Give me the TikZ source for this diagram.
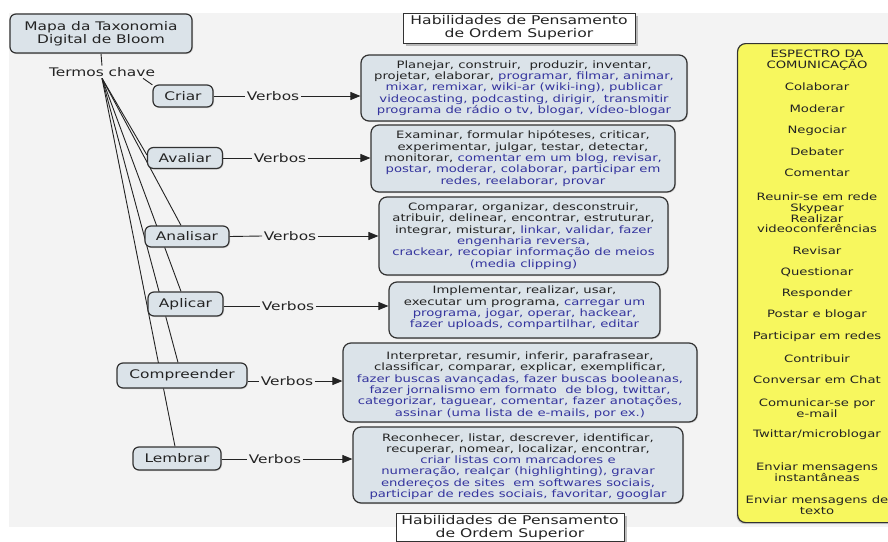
\documentclass[tikz,border=0pt]{standalone}
\usepackage{fontspec}
\setmainfont[FakeStretch=1.3]{DejaVu Sans}
\usetikzlibrary{arrows.meta,shadows,calc}

\definecolor{bggray}{RGB}{243,243,243}
\definecolor{nodefill}{RGB}{219,227,233}
\definecolor{edgegray}{RGB}{50,50,50}
\definecolor{verbblue}{RGB}{52,52,158}
\definecolor{inkdark}{RGB}{35,35,35}
\definecolor{specyellow}{RGB}{247,247,94}

\pgfdeclarelayer{back}
\pgfdeclarelayer{links}
\pgfsetlayers{back,links,main}

\newcommand{\bl}[1]{\textcolor{verbblue}{#1}}

\begin{document}
\begin{tikzpicture}[x=1pt,y=-1pt,
  bigfont/.style={font=\fontsize{11.85}{13}\selectfont},
  concept/.style={draw=edgegray, line width=1.2pt, rounded corners=6pt,
    fill=nodefill, bigfont, text=inkdark, inner sep=0pt,
    drop shadow={shadow xshift=1pt, shadow yshift=-1pt, fill=black!30}},
  verbbox/.style={draw=edgegray, line width=1.2pt, rounded corners=8pt,
    fill=nodefill, inner sep=0pt,
    drop shadow={shadow xshift=1pt, shadow yshift=-1pt, fill=black!30}},
  verbtext/.style={text=inkdark, align=center, inner sep=0pt,
    font=\fontsize{10.15}{11.3}\selectfont},
  verblabel/.style={bigfont, text=inkdark, inner sep=1.5pt},
  hdr/.style={draw=edgegray, line width=0.8pt, fill=white, text=inkdark,
    align=center, inner sep=0pt, font=\fontsize{12}{13}\selectfont,
    drop shadow={shadow xshift=3pt, shadow yshift=-3pt, fill=black!50}},
  specitem/.style={text=inkdark, align=center, inner sep=0pt,
    font=\fontsize{10.15}{10.8}\selectfont},
  link/.style={draw=inkdark, line width=0.9pt},
  arr/.style={link, -{Triangle[length=10pt,width=8pt]}}
]
\useasboundingbox (0,0) rectangle (888,541);

\begin{pgfonlayer}{back}
  \fill[bggray] (9,13) rectangle (888,527);
\end{pgfonlayer}

% title and key terms
\node[concept, align=center, minimum width=182pt, minimum height=39pt]
  (title) at (101,33.5) {Mapa da Taxonomia\\Digital de Bloom};
\node[verblabel] (termos) at (102,72) {Termos chave};

% levels of the taxonomy
\node[concept, minimum width=60pt,  minimum height=22pt] (criar)       at (183,96)    {Criar};
\node[concept, minimum width=75pt,  minimum height=21pt] (avaliar)     at (185,158)   {Avaliar};
\node[concept, minimum width=84pt,  minimum height=21pt] (analisar)    at (187,236.5) {Analisar};
\node[concept, minimum width=75pt,  minimum height=24pt] (aplicar)     at (185.5,304) {Aplicar};
\node[concept, minimum width=130pt, minimum height=25pt] (compreender) at (182,375.5) {Compreender};
\node[concept, minimum width=88pt,  minimum height=23pt] (lembrar)     at (177,458.5) {Lembrar};

% verb list boxes
\node[verbbox, minimum width=326pt, minimum height=66pt] (b1) at (524,88)    {};
\node[verbbox, minimum width=304pt, minimum height=67pt] (b2) at (523,158.5) {};
\node[verbbox, minimum width=289pt, minimum height=78pt] (b3) at (523.5,236) {};
\node[verbbox, minimum width=271pt, minimum height=56pt] (b4) at (524.5,310) {};
\node[verbbox, minimum width=354pt, minimum height=79pt] (b5) at (520,382.5) {};
\node[verbbox, minimum width=330pt, minimum height=76pt] (b6) at (518,465)   {};

% verb list texts
\node[verbtext] (t1) at (b1.center) {%
  Planejar, construir,\ \ produzir, inventar,\\
  projetar, elaborar, \bl{programar, filmar, animar,}\\
  \bl{mixar, remixar, wiki-ar (wiki-ing), publicar}\\
  \bl{videocasting, podcasting, dirigir,\ \ transmitir}\\
  \bl{programa de rádio o tv, blogar, vídeo-blogar}};
\node[verbtext] (t2) at (b2.center) {%
  Examinar, formular hipóteses, criticar,\\
  experimentar, julgar, testar, detectar,\\
  monitorar, \bl{comentar em um blog, revisar,}\\
  \bl{postar, moderar, colaborar, participar em}\\
  \bl{redes, reelaborar, provar}};
\node[verbtext] (t3) at (b3.center) {%
  Comparar, organizar, desconstruir,\\
  atribuir, delinear, encontrar, estruturar,\\
  integrar, misturar, \bl{linkar, validar, fazer}\\
  \bl{engenharia reversa,}\\
  \bl{crackear, recopiar informação de meios}\\
  \bl{(media clipping)}};
\node[verbtext] (t4) at ($(b4.center)+(0,-2)$) {%
  Implementar, realizar, usar,\\
  executar um programa, \bl{carregar um}\\
  \bl{programa, jogar, operar, hackear,}\\
  \bl{fazer uploads, compartilhar, editar}};
\node[verbtext] (t5) at ($(b5.center)+(0,2.5)$) {%
  Interpretar, resumir, inferir, parafrasear,\\
  classificar, comparar, explicar, exemplificar,\\
  \bl{fazer buscas avançadas, fazer buscas booleanas,}\\
  \bl{fazer jornalismo em formato\ \ de blog, twittar,}\\
  \bl{categorizar, taguear, comentar, fazer anotações,}\\
  \bl{assinar (uma lista de e-mails, por ex.)}};
\node[verbtext] (t6) at ($(b6.center)+(0,1.5)$) {%
  Reconhecer, listar, descrever, identificar,\\
  recuperar, nomear, localizar, encontrar,\\
  \bl{criar listas com marcadores e}\\
  \bl{numeração, realçar (highlighting), gravar}\\
  \bl{endereços de sites\ \ em softwares sociais,}\\
  \bl{participar de redes sociais, favoritar, googlar}};

% "Verbos" labels
\node[verblabel] (v1) at (273,96)  {Verbos};
\node[verblabel] (v2) at (280,158) {Verbos};
\node[verblabel] (v3) at (290,236) {Verbos};
\node[verblabel] (v4) at (288,306) {Verbos};
\node[verblabel] (v5) at (287,381) {Verbos};
\node[verblabel] (v6) at (275,459) {Verbos};

% headers
\node[hdr, minimum width=232pt, minimum height=30pt] (h1) at (519,28)
  {Habilidades de Pensamento\\de Ordem Superior};
\node[hdr, minimum width=228pt, minimum height=28pt, anchor=north] (h2) at (510,513)
  {Habilidades de Pensamento\\de Ordem Superior};

% communication spectrum
\node[draw=edgegray, line width=1.2pt, rounded corners=8pt, fill=specyellow,
  anchor=north west, minimum width=170pt, minimum height=479pt,
  drop shadow={shadow xshift=-1pt, shadow yshift=-1.5pt, fill=black!35}]
  (spec) at (737,43) {};
\foreach \yy/\txt [count=\i] in {
  60.5/{ESPECTRO DA\\COMUNICAÇÃO},
  87/{Colaborar}, 109/{Moderar}, 131/{Negociar}, 152/{Debater}, 173/{Comentar},
  213/{Reunir-se em rede\\Skypear\\Realizar\\videoconferências},
  251/{Revisar}, 272/{Questionar}, 294/{Responder}, 315/{Postar e blogar},
  337/{Participar em redes}, 359/{Contribuir}, 380/{Conversar em Chat},
  408/{Comunicar-se por\\e-mail},
  435/{Twittar/microblogar},
  472.5/{Enviar mensagens\\instantâneas},
  505/{Enviar mensagens de\\texto}}
  \node[specitem] (s\i) at (817,\yy) {\txt};

% connectors from the key terms to each level
\begin{pgfonlayer}{links}
  \draw[link] (title.south) -- (termos.north);
  \draw[link] ($(termos.south)!0.75!(termos.south east)$) -- (criar.160);
  \draw[link] (termos.south) -- ($(avaliar.west)+(0,-3)$);
  \draw[link] (termos.south) -- ($(analisar.north)+(-6,0)$);
  \draw[link] (termos.south) -- ($(aplicar.north)+(-4.5,0)$);
  \draw[link] (termos.south) -- ($(compreender.north)+(-4,0)$);
  \draw[link] (termos.south) -- ($(lembrar.north)+(-2,0)$);
\end{pgfonlayer}

% level -> "Verbos" -> verb list
\draw[link] (criar.east) -- (v1.west);
\draw[arr]  (v1.east) -- (v1.east -| b1.west);
\draw[link] (avaliar.east) -- (v2.west);
\draw[arr]  (v2.east) -- (v2.east -| b2.west);
\draw[link] (analisar.east) -- (v3.west);
\draw[arr]  (v3.east) -- (v3.east -| b3.west);
\draw[link] (v4.west -| aplicar.east) -- (v4.west);
\draw[arr]  (v4.east) -- (v4.east -| b4.west);
\draw[link] (v5.west -| compreender.east) -- (v5.west);
\draw[arr]  (v5.east) -- (v5.east -| b5.west);
\draw[link] (v6.west -| lembrar.east) -- (v6.west);
\draw[arr]  (v6.east) -- (v6.east -| b6.west);
\end{tikzpicture}
\end{document}
